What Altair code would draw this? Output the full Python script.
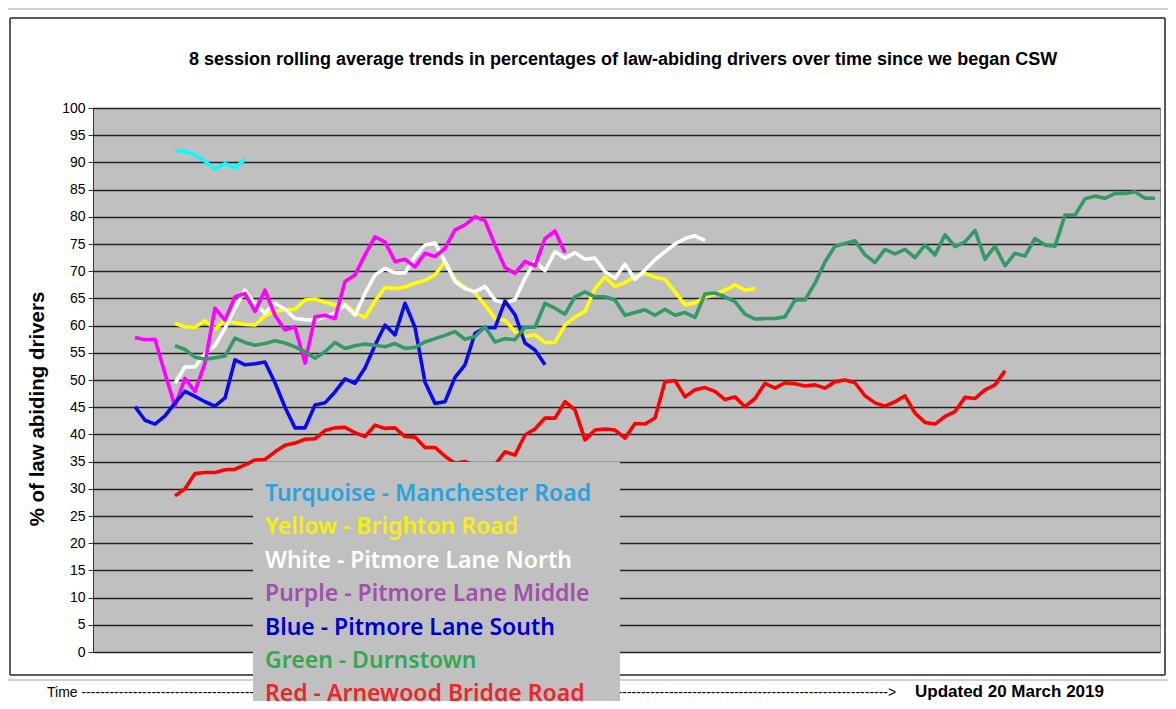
import altair as alt
import pandas as pd

# ---------------- data ----------------
series_names = ["Manchester Road", "Brighton Road", "Pitmore Lane North",
                "Pitmore Lane Middle", "Pitmore Lane South", "Durnstown",
                "Arnewood Bridge Road"]
line_colors = ["#00FFFF", "#FFFF00", "#FFFFFF", "#FF00FF", "#0A0AF0", "#339966", "#FF0000"]
start_session = [4, 4, 4, 0, 0, 4, 4]

turquoise = [92.2, 92.0, 91.4, 90.2, 88.8, 89.8, 89.0, 90.6]

yellow = [60.4, 59.8, 59.7, 60.9, 59.3, 61.0, 60.5, 60.2, 60.1, 61.8, 62.6, 62.9,
          63.0, 64.7, 64.9, 64.3, 63.8, 63.9, 62.4, 61.5, 64.5, 67.0, 66.8, 67.1,
          67.8, 68.3, 69.3, 71.8, 68.4, 67.0, 66.0, 63.8, 61.3, 61.0, 58.9, 58.0,
          58.3, 56.9, 56.9, 60.1, 61.6, 62.6, 66.8, 68.9, 67.2, 67.9, 69.0, 69.6,
          68.9, 68.5, 66.2, 63.8, 64.2, 65.2, 65.8, 66.5, 67.5, 66.5, 66.8]

white = [49.4, 52.4, 52.4, 54.8, 56.3, 59.5, 63.2, 66.5, 64.0, 62.3, 64.1, 63.0,
         61.3, 61.1, 61.0, 61.6, 62.3, 63.8, 61.9, 65.9, 69.3, 70.5, 69.7, 69.7,
         72.7, 74.8, 75.2, 71.8, 68.1, 66.8, 66.2, 67.2, 64.7, 64.1, 64.8, 68.7,
         71.8, 70.1, 73.6, 72.4, 73.4, 72.2, 72.4, 69.9, 68.7, 71.3, 68.5, 70.2,
         72.1, 73.6, 75.0, 76.0, 76.5, 75.6]

magenta = [57.8, 57.4, 57.5, 51.2, 45.2, 50.3, 47.9, 53.1, 63.2, 61.0, 65.3, 65.9,
           62.6, 66.5, 61.9, 59.2, 59.8, 53.1, 61.6, 61.9, 61.3, 68.1, 69.3, 73.0,
           76.3, 75.4, 71.8, 72.2, 70.8, 73.3, 72.7, 74.2, 77.6, 78.5, 80.0, 79.3,
           74.8, 70.7, 69.6, 71.8, 71.0, 76.0, 77.4, 73.4]

blue = [45.1, 42.6, 41.9, 43.4, 45.8, 47.9, 47.0, 46.0, 45.2, 46.7, 53.7, 52.8,
        53.0, 53.3, 49.5, 45.0, 41.2, 41.2, 45.4, 45.8, 47.8, 50.2, 49.4, 52.2,
        56.4, 60.1, 58.3, 64.1, 59.7, 49.6, 45.7, 46.0, 50.5, 52.8, 58.6, 59.6,
        59.6, 64.5, 62.0, 56.8, 55.5, 52.8]

green = [56.3, 55.6, 54.2, 53.8, 54.1, 54.4, 57.7, 56.9, 56.4, 56.7, 57.2, 56.8,
         56.1, 55.2, 54.0, 55.2, 56.9, 55.8, 56.3, 56.6, 56.4, 56.1, 56.7, 55.8,
         56.0, 57.0, 57.6, 58.2, 58.9, 57.5, 58.0, 59.8, 57.0, 57.6, 57.4, 59.7,
         59.7, 64.1, 63.2, 62.1, 65.3, 66.2, 65.3, 65.3, 64.7, 61.9, 62.4, 62.9,
         61.9, 63.0, 61.9, 62.4, 61.5, 65.8, 66.0, 65.3, 64.4, 62.1, 61.2, 61.3,
         61.3, 61.6, 64.7, 64.7, 67.8, 71.7, 74.6, 75.1, 75.6, 73.0, 71.6, 74.0,
         73.2, 74.0, 72.5, 74.8, 73.0, 76.7, 74.5, 75.4, 77.5, 72.2, 74.6, 71.0,
         73.3, 72.8, 76.0, 74.8, 74.6, 80.3, 80.3, 83.3, 83.8, 83.4, 84.3, 84.3,
         84.6, 83.4, 83.4]

red = [28.7, 30.0, 32.8, 33.0, 33.0, 33.5, 33.6, 34.4, 35.3, 35.4, 36.8, 38.0,
       38.4, 39.1, 39.2, 40.7, 41.2, 41.3, 40.3, 39.6, 41.7, 41.1, 41.2, 39.6,
       39.5, 37.6, 37.6, 36.0, 34.7, 35.0, 34.3, 33.8, 34.4, 36.8, 36.2, 39.9,
       41.0, 43.0, 43.0, 46.0, 44.5, 39.0, 40.8, 41.0, 40.8, 39.3, 42.0, 41.9,
       43.0, 49.7, 49.9, 46.9, 48.2, 48.6, 47.9, 46.4, 46.9, 45.1, 46.6, 49.4,
       48.5, 49.5, 49.3, 48.9, 49.1, 48.5, 49.7, 50.0, 49.5, 47.1, 45.8, 45.2,
       46.0, 47.1, 43.9, 42.2, 41.9, 43.3, 44.2, 46.8, 46.6, 48.2, 49.1, 51.7]

all_values = [turquoise, yellow, white, magenta, blue, green, red]
y_ticks = list(range(0, 101, 5))

legend_labels = ["Turquoise - Manchester Road", "Yellow - Brighton Road",
                 "White - Pitmore Lane North", "Purple - Pitmore Lane Middle",
                 "Blue - Pitmore Lane South", "Green - Durnstown",
                 "Red - Arnewood Bridge Road"]
legend_colors = ["#2AA2DC", "#F8F200", "#FFFFFF", "#A052A8", "#0000CC", "#33A852", "#E8282A"]

title_text = "8 session rolling average trends in percentages of law-abiding drivers over time since we began CSW"
y_title = "% of law abiding drivers"
time_text = "Time " + "-" * 173 + ">"
updated_text = "Updated 20 March 2019"

rows = []
for name, start, vals in zip(series_names, start_session, all_values):
    for i, v in enumerate(vals):
        rows.append({"series": name, "session": start + i, "pct": v, "order": i})
df = pd.DataFrame(rows)

W, H = 1067, 544
FONT = "Liberation Sans"

x_scale = alt.Scale(domain=[-4.2, 102.5], nice=False, zero=False)
y_scale = alt.Scale(domain=[0, 100], nice=False)

base = alt.Chart(df)

# outer chart-box border
box = base.mark_rect(fillOpacity=0, stroke="#5a5a5a", strokeWidth=1).encode(
    x=alt.value(-83), x2=alt.value(1072), y=alt.value(-90), y2=alt.value(567))

# spreadsheet lines outside the box
sheet_lines = []
for yy in [-99, 572, 598]:
    sheet_lines.append(base.mark_rule(color="#d0d0d0", strokeWidth=1).encode(
        x=alt.value(-93), x2=alt.value(1075), y=alt.value(yy)))

lines = base.mark_line(strokeWidth=3.6, strokeJoin="round").encode(
    x=alt.X("session:Q", scale=x_scale, axis=None),
    y=alt.Y("pct:Q", scale=y_scale,
            axis=alt.Axis(values=y_ticks, title=None, grid=True, gridColor="#222222",
                          gridWidth=1.3, tickColor="#333333", tickSize=5,
                          domainColor="#333333", labelFont=FONT, labelFontSize=14,
                          labelColor="#000000", labelPadding=3)),
    color=alt.Color("series:N", scale=alt.Scale(domain=series_names, range=line_colors),
                    legend=None),
    order="order:Q",
)

legend_box = base.mark_rect(fill="#C0C0C0").encode(
    x=alt.value(160), x2=alt.value(527), y=alt.value(354), y2=alt.value(620))

legend_texts = []
for k, (lab, col) in enumerate(zip(legend_labels, legend_colors)):
    legend_texts.append(
        alt.Chart(pd.DataFrame({"t": [lab]})).mark_text(
            align="left", baseline="middle", font="Noto Sans", fontSize=23,
            fontWeight=600, color=col
        ).encode(text="t:N", x=alt.value(172), y=alt.value(386 + k * 33.4)))

title = alt.Chart(pd.DataFrame({"t": [title_text]})).mark_text(
    align="center", baseline="middle", font=FONT, fontSize=18, fontWeight="bold",
    color="#000000").encode(text="t:N", x=alt.value(530), y=alt.value(-48))

ytitle = alt.Chart(pd.DataFrame({"t": [y_title]})).mark_text(
    align="center", baseline="middle", font=FONT, fontSize=20.5, fontWeight="bold",
    angle=270, color="#000000").encode(text="t:N", x=alt.value(-55), y=alt.value(301))

time_lbl = alt.Chart(pd.DataFrame({"t": [time_text]})).mark_text(
    align="left", baseline="middle", font=FONT, fontSize=14, color="#000000"
).encode(text="t:N", x=alt.value(-46), y=alt.value(585))

upd_lbl = alt.Chart(pd.DataFrame({"t": [updated_text]})).mark_text(
    align="left", baseline="middle", font=FONT, fontSize=17, fontWeight="bold",
    color="#000000").encode(text="t:N", x=alt.value(822), y=alt.value(584))

chart = alt.layer(
    box, *sheet_lines, lines, time_lbl, upd_lbl, legend_box, *legend_texts, title, ytitle
).properties(
    width=W, height=H,
    padding={"left": 85, "top": 100, "right": 8, "bottom": 49},
    autosize=alt.AutoSizeParams(type="none"),
    background="#FFFFFF",
).configure_view(fill="#C0C0C0", stroke="#8a8a8a")

chart.save("out.html", embed_options={"renderer": "svg", "actions": False})
